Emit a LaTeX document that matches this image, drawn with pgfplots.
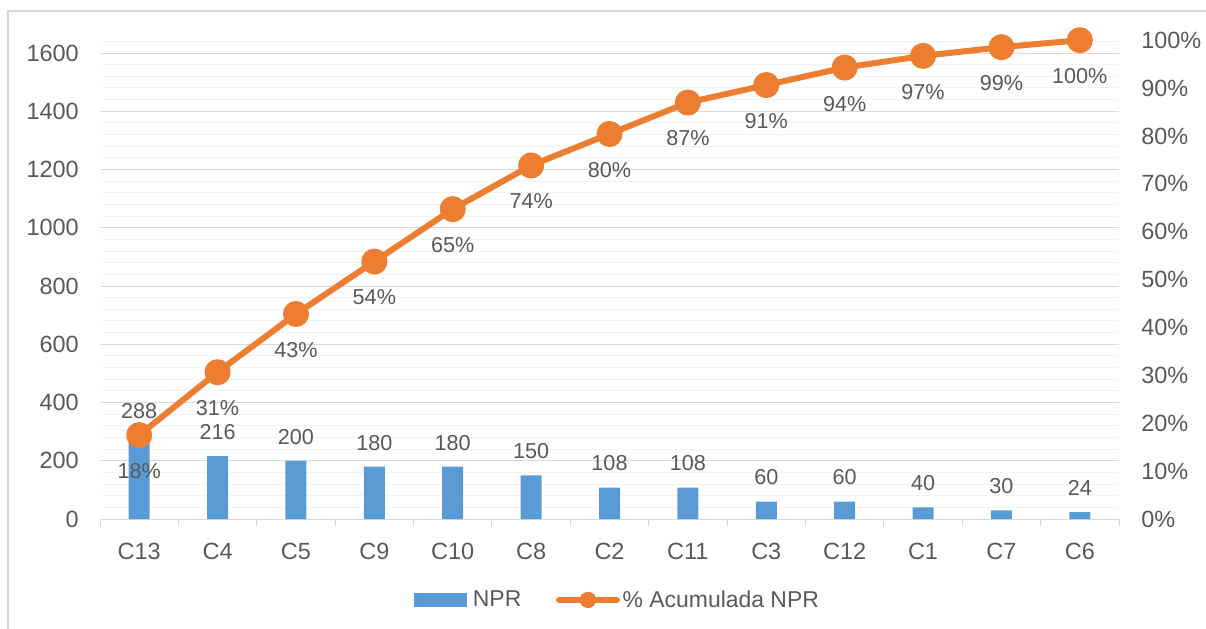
\documentclass[border=0pt]{standalone}
\usepackage{fontspec}
\setmainfont{Liberation Sans}
\usepackage{pgfplots}
\pgfplotsset{compat=1.18}
\definecolor{npblue}{HTML}{5B9BD5}
\definecolor{nporange}{HTML}{ED7D31}
\definecolor{gridmaj}{HTML}{D9D9D9}
\definecolor{gridmin}{HTML}{F2F2F2}
\definecolor{txt}{HTML}{595959}
\definecolor{framec}{HTML}{D9D9D9}
\begin{document}
\begin{tikzpicture}
\useasboundingbox (0pt,0pt) rectangle (904.5pt,471pt);
\draw[framec, line width=1pt] (6pt,-20pt) -- (6pt,462.75pt) -- (930pt,462.75pt);
\pgfplotsset{common/.style={scale only axis, width=764.25pt, height=359.1pt,
  at={(75pt,81.75pt)}, anchor=south west, xmin=-0.5, xmax=12.5, clip=false,
  tick label style={font=\fontsize{17.6}{21}\selectfont, text=txt}}}
\begin{axis}[common, ymin=0, ymax=1644,
  ytick={0,200,...,1600}, yticklabels={0,200,400,600,800,1000,1200,1400,1600},
  minor ytick={40,80,120,160,240,280,320,360,440,480,520,560,640,680,720,760,840,880,920,960,1040,1080,1120,1160,1240,1280,1320,1360,1440,1480,1520,1560,1640},
  ymajorgrids, yminorgrids,
  major grid style={gridmaj, line width=0.75pt},
  minor grid style={gridmin, line width=0.75pt},
  axis x line*=bottom, axis y line*=left,
  y axis line style={draw=none}, x axis line style={gridmaj, line width=0.75pt, -},
  ytick style={draw=none}, minor y tick style={draw=none},
  xtick={0,...,12}, xticklabels={C13,C4,C5,C9,C10,C8,C2,C11,C3,C12,C1,C7,C6},
  major x tick style={draw=none},
  minor xtick={-0.5,0.5,...,12.5}, minor x tick style={gridmaj, line width=0.75pt},
  minor tick length=5.25pt, xtick align=outside,
  yticklabel style={anchor=east, inner sep=0pt, xshift=-15.75pt},
  xticklabel style={anchor=north, inner sep=0pt, yshift=-13.5pt},
]
\addplot[ybar, bar width=15.75pt, fill=npblue, draw=none,
  nodes near coords, point meta=explicit symbolic,
  nodes near coords style={font=\fontsize{16.2}{19}\selectfont, text=txt, anchor=center, yshift=18pt}]
  coordinates {(0,288)[288] (1,216)[216] (2,200)[200] (3,180)[180] (4,180)[180] (5,150)[150]
  (6,108)[108] (7,108)[108] (8,60)[60] (9,60)[60] (10,40)[40] (11,30)[30] (12,24)[24]};
\end{axis}
\begin{axis}[common, ymin=0, ymax=100,
  axis y line*=right, axis x line=none,
  y axis line style={draw=none}, ytick style={draw=none},
  ytick={0,10,...,100}, yticklabels={0\%,10\%,20\%,30\%,40\%,50\%,60\%,70\%,80\%,90\%,100\%},
  yticklabel style={anchor=west, inner sep=0pt, xshift=16.5pt},
  legend style={at={(0.508,-0.169)}, anchor=center, draw=none, fill=none,
    legend columns=2, font=\fontsize{17.2}{20}\selectfont, text=txt,
    /tikz/every even column/.append style={column sep=24pt}},
]
\addlegendimage{legend image code/.code={\fill[npblue] (0pt,-4.9pt) rectangle (39pt,4.9pt); \path (42pt,0pt);}}
\addlegendentry{NPR}
\addplot[nporange, line width=4.5pt, line join=round, mark=*, mark size=7.5pt,
  mark options={solid, fill=nporange, draw=none},
  nodes near coords, point meta=explicit symbolic,
  nodes near coords style={font=\fontsize{16.2}{19}\selectfont, text=txt, anchor=center, yshift=-27pt},
  legend image code/.code={\draw[nporange, line width=4.5pt, line cap=round] (0pt,0pt)--(43.5pt,0pt); \fill[nporange] (21.75pt,0pt) circle (4pt);}]
  coordinates {(0,17.52)[18\%] (1,30.66)[31\%] (2,42.82)[43\%] (3,53.77)[54\%] (4,64.72)[65\%]
  (5,73.84)[74\%] (6,80.41)[80\%] (7,86.98)[87\%] (8,90.63)[91\%] (9,94.28)[94\%]
  (10,96.72)[97\%] (11,98.54)[99\%] (12,100)[100\%]};
\addlegendentry{\% Acumulada NPR}
\end{axis}
\end{tikzpicture}
\end{document}
